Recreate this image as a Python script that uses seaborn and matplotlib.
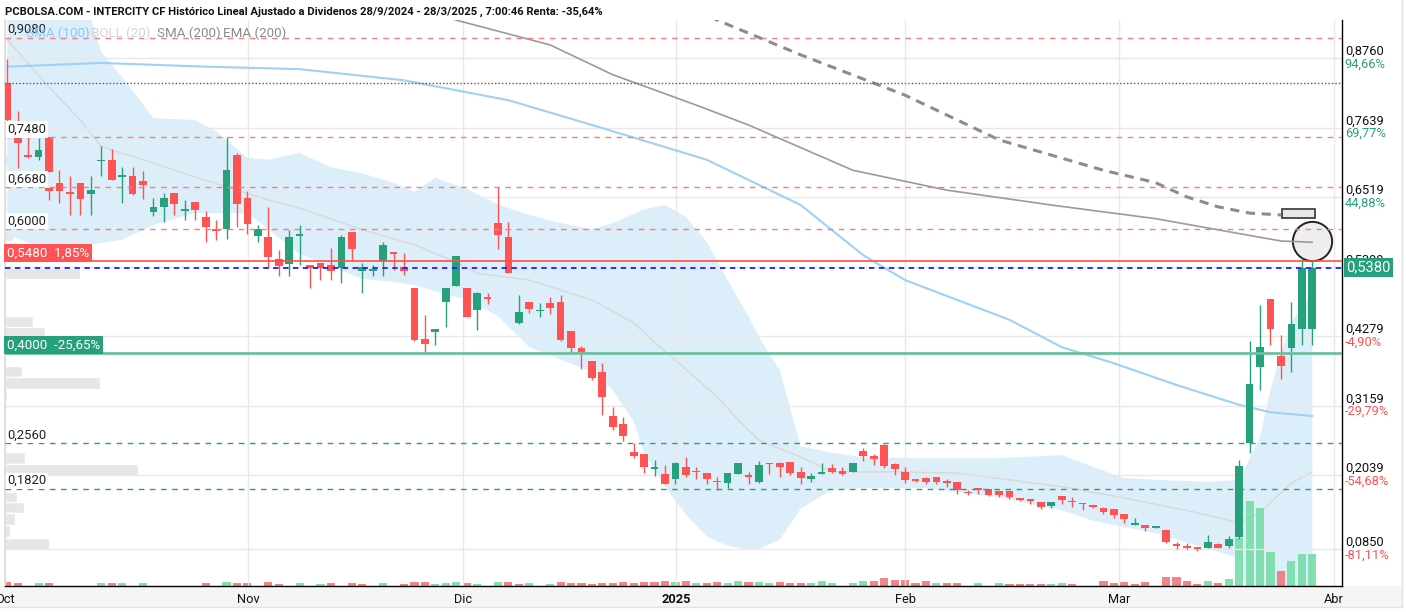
import numpy as np
import pandas as pd
import matplotlib
matplotlib.use("Agg")
import matplotlib.pyplot as plt
import seaborn as sns
from matplotlib.patches import Rectangle
from matplotlib.lines import Line2D

sns.set_theme(style="white")
plt.rcParams['font.family'] = ['Roboto', 'DejaVu Sans']

# ---------------- data ----------------
opens = [0.835, 0.748, 0.720, 0.716, 0.748, 0.674, 0.660, 0.674, 0.657, 0.710,
         0.712, 0.684, 0.686, 0.678, 0.627, 0.636, 0.659, 0.630, 0.644, 0.619,
         0.600, 0.600, 0.720, 0.651, 0.589, 0.588, 0.552, 0.544, 0.589, 0.542,
         0.545, 0.542, 0.537, 0.595, 0.533, 0.533, 0.548, 0.563, 0.539, 0.506,
         0.423, 0.434, 0.482, 0.509, 0.505, 0.470, 0.490, 0.610, 0.588, 0.449,
         0.482, 0.468, 0.481, 0.482, 0.436, 0.408, 0.388, 0.370, 0.299, 0.286,
         0.241, 0.238, 0.214, 0.206, 0.197, 0.216, 0.209, 0.207, 0.194, 0.191,
         0.206, 0.204, 0.192, 0.223, 0.223, 0.225, 0.208, 0.197, 0.206, 0.215,
         0.211, 0.209, 0.243, 0.235, 0.252, 0.221, 0.209, 0.197, 0.199, 0.201,
         0.194, 0.192, 0.177, 0.183, 0.181, 0.178, 0.178, 0.165, 0.166, 0.160,
         0.154, 0.170, 0.161, 0.158, 0.154, 0.150, 0.149, 0.141, 0.123, 0.123,
         0.118, 0.116, 0.093, 0.090, 0.086, 0.087, 0.093, 0.090, 0.104, 0.255,
         0.378, 0.487, 0.395, 0.408, 0.440, 0.440]
highs = [0.875, 0.791, 0.748, 0.747, 0.748, 0.695, 0.685, 0.674, 0.686, 0.734,
         0.730, 0.701, 0.700, 0.694, 0.651, 0.659, 0.659, 0.647, 0.644, 0.629,
         0.615, 0.748, 0.723, 0.662, 0.607, 0.636, 0.567, 0.599, 0.607, 0.542,
         0.545, 0.569, 0.591, 0.595, 0.545, 0.542, 0.580, 0.563, 0.562, 0.506,
         0.462, 0.439, 0.505, 0.557, 0.505, 0.499, 0.498, 0.668, 0.612, 0.494,
         0.482, 0.481, 0.490, 0.494, 0.436, 0.412, 0.388, 0.385, 0.313, 0.297,
         0.256, 0.238, 0.228, 0.220, 0.225, 0.233, 0.216, 0.207, 0.200, 0.207,
         0.224, 0.209, 0.227, 0.223, 0.225, 0.225, 0.216, 0.207, 0.224, 0.222,
         0.216, 0.224, 0.247, 0.238, 0.254, 0.223, 0.216, 0.197, 0.201, 0.201,
         0.197, 0.192, 0.179, 0.183, 0.181, 0.178, 0.178, 0.167, 0.166, 0.160,
         0.161, 0.170, 0.168, 0.158, 0.156, 0.152, 0.149, 0.141, 0.134, 0.123,
         0.122, 0.116, 0.096, 0.094, 0.088, 0.107, 0.095, 0.106, 0.228, 0.420,
         0.478, 0.487, 0.430, 0.483, 0.553, 0.548]
lows = [0.775, 0.698, 0.715, 0.712, 0.692, 0.643, 0.623, 0.623, 0.623, 0.686,
        0.679, 0.643, 0.655, 0.648, 0.622, 0.611, 0.623, 0.615, 0.615, 0.580,
        0.583, 0.584, 0.603, 0.593, 0.580, 0.537, 0.524, 0.524, 0.542, 0.505,
        0.518, 0.518, 0.513, 0.548, 0.498, 0.524, 0.524, 0.535, 0.526, 0.420,
        0.399, 0.413, 0.442, 0.509, 0.458, 0.438, 0.480, 0.568, 0.529, 0.448,
        0.465, 0.458, 0.463, 0.420, 0.399, 0.374, 0.357, 0.301, 0.276, 0.258,
        0.231, 0.207, 0.202, 0.189, 0.189, 0.201, 0.197, 0.189, 0.180, 0.183,
        0.206, 0.189, 0.191, 0.206, 0.201, 0.204, 0.189, 0.192, 0.206, 0.207,
        0.204, 0.208, 0.227, 0.220, 0.215, 0.204, 0.191, 0.192, 0.189, 0.189,
        0.184, 0.173, 0.172, 0.173, 0.170, 0.169, 0.166, 0.162, 0.157, 0.149,
        0.150, 0.157, 0.152, 0.148, 0.150, 0.141, 0.134, 0.126, 0.123, 0.113,
        0.118, 0.094, 0.084, 0.084, 0.082, 0.086, 0.086, 0.086, 0.100, 0.239,
        0.341, 0.413, 0.358, 0.370, 0.413, 0.413]
closes = [0.776, 0.739, 0.716, 0.727, 0.693, 0.661, 0.656, 0.648, 0.663, 0.712,
          0.679, 0.687, 0.657, 0.672, 0.636, 0.651, 0.641, 0.632, 0.631, 0.604,
          0.597, 0.695, 0.641, 0.608, 0.600, 0.556, 0.540, 0.588, 0.592, 0.537,
          0.537, 0.533, 0.588, 0.568, 0.539, 0.535, 0.575, 0.560, 0.533, 0.422,
          0.415, 0.439, 0.505, 0.557, 0.459, 0.497, 0.488, 0.591, 0.530, 0.467,
          0.471, 0.470, 0.473, 0.422, 0.408, 0.399, 0.360, 0.329, 0.281, 0.266,
          0.235, 0.217, 0.216, 0.189, 0.224, 0.204, 0.208, 0.197, 0.192, 0.207,
          0.224, 0.201, 0.220, 0.221, 0.217, 0.207, 0.199, 0.203, 0.208, 0.209,
          0.206, 0.224, 0.235, 0.229, 0.219, 0.213, 0.196, 0.194, 0.193, 0.193,
          0.191, 0.180, 0.175, 0.179, 0.172, 0.172, 0.169, 0.164, 0.162, 0.153,
          0.161, 0.164, 0.160, 0.157, 0.153, 0.144, 0.139, 0.133, 0.126, 0.118,
          0.122, 0.096, 0.090, 0.087, 0.085, 0.096, 0.087, 0.100, 0.218, 0.350,
          0.410, 0.439, 0.380, 0.448, 0.537, 0.538]
prev_close = 0.835
# a second bar recorded on the same session as bar 4
dup_day, dup_ohlc = 4, (0.666, 0.666, 0.647, 0.661)

volume = [40, 30, 0, 30, 30, 0, 0, 0, 0, 30, 30, 30, 0, 30, 0, 0, 0, 0, 0, 30,
          0, 40, 30, 30, 0, 40, 20, 0, 30, 0, 20, 30, 0, 30, 20, 0, 30, 0, 20, 40,
          40, 20, 30, 40, 30, 20, 0, 40, 40, 20, 30, 0, 20, 40, 30, 30, 20, 30, 30, 40,
          30, 40, 40, 50, 40, 50, 30, 30, 40, 30, 50, 40, 40, 30, 40, 30, 30, 30, 50, 30,
          0, 30, 50, 50, 80, 60, 60, 30, 50, 30, 30, 30, 0, 30, 0, 30, 20, 20, 20, 20,
          20, 30, 20, 0, 0, 50, 30, 40, 20, 40, 0, 90, 90, 50, 20, 50, 30, 70, 480, 850,
          780, 340, 150, 250, 320, 320]

# Bollinger (20) read at sampled sessions
boll_day = [0, 4, 8, 9, 11, 14, 18, 20, 23, 25, 28, 31, 34, 37, 39, 41, 44, 47, 50, 53,
            56, 58, 60, 61, 63, 65, 67, 69, 71, 72, 74, 76, 79, 82, 88, 91, 95, 101, 104,
            107, 110, 115, 118, 119, 120, 121, 122, 123, 125]
boll_up = [1.00, 0.98, 0.94, 0.886, 0.845, 0.779, 0.776, 0.758, 0.715, 0.712, 0.723, 0.700,
           0.690, 0.675, 0.660, 0.683, 0.665, 0.640, 0.623, 0.610, 0.600, 0.610, 0.625,
           0.632, 0.639, 0.620, 0.580, 0.518, 0.460, 0.426, 0.373, 0.250, 0.240, 0.232,
           0.231, 0.231, 0.231, 0.236, 0.217, 0.199, 0.196, 0.193, 0.196, 0.230, 0.265,
           0.341, 0.400, 0.450, 0.500]
boll_low = [0.591, 0.566, 0.575, 0.578, 0.583, 0.607, 0.626, 0.626, 0.626, 0.600, 0.560,
            0.540, 0.520, 0.515, 0.510, 0.500, 0.486, 0.460, 0.410, 0.390, 0.370, 0.341,
            0.290, 0.240, 0.185, 0.140, 0.105, 0.090, 0.083, 0.085, 0.100, 0.150, 0.180,
            0.183, 0.183, 0.176, 0.168, 0.147, 0.130, 0.120, 0.110, 0.085, 0.070, 0.000,
            -0.05, -0.07, -0.08, -0.09, -0.10]
mid_day = [0, 4, 7, 9, 14, 18, 22, 25, 28, 34, 39, 43, 45, 50, 56, 60, 62, 64, 68, 70, 72,
           76, 79, 85, 91, 101, 107, 114, 118, 120, 123, 125]
boll_mid = [0.905, 0.829, 0.776, 0.733, 0.707, 0.684, 0.663, 0.647, 0.634, 0.599, 0.575,
            0.547, 0.529, 0.518, 0.486, 0.449, 0.418, 0.389, 0.330, 0.293, 0.260, 0.233,
            0.209, 0.209, 0.207, 0.185, 0.167, 0.143, 0.127, 0.143, 0.191, 0.209]

sma100_day = [0, 9, 19, 28, 38, 48, 57, 67, 76, 82, 86, 96, 101, 106, 112, 118, 121, 125]
sma100 = [0.862, 0.868, 0.862, 0.858, 0.840, 0.808, 0.763, 0.712, 0.639, 0.558, 0.518,
          0.454, 0.410, 0.384, 0.349, 0.317, 0.305, 0.299]
sma200_day = [40, 43, 52, 58, 66, 71, 81, 90, 100, 110, 116, 122, 125]
sma200 = [0.955, 0.937, 0.897, 0.849, 0.800, 0.768, 0.695, 0.663, 0.639, 0.617, 0.599,
          0.581, 0.579]
ema200_day = [66, 68, 76, 86, 95, 105, 110, 113, 116, 119, 122]
ema200 = [0.955, 0.937, 0.881, 0.816, 0.744, 0.695, 0.675, 0.652, 0.636, 0.626, 0.623]

profile_price = [0.711, 0.591, 0.529, 0.4505, 0.4335, 0.371, 0.352, 0.332, 0.231, 0.212,
                 0.168, 0.1515, 0.133, 0.1136, 0.0927]
profile_vol = [3, 8, 75, 28, 40, 17, 95, 2, 20, 133, 12, 19, 10, 5, 44]

month_pos = [-0.22, 23.06, 43.65, 64.05, 86.0, 106.5, 127.1]
month_lab = ["Oct", "Nov", "Dic", "2025", "Feb", "Mar", "Abr"]

grid_vals = [0.8760, 0.7639, 0.6519, 0.5399, 0.4279, 0.3159, 0.2039, 0.0850]
grid_lab = ["0,8760", "0,7639", "0,6519", "0,5399", "0,4279", "0,3159", "0,2039", "0,0850"]
grid_pct = ["94,66%", "69,77%", "44,88%", "", "-4,90%", "-29,79%", "-54,68%", "-81,11%"]

red_levels = [0.9080, 0.7480, 0.6680, 0.6000]
red_labels = ["0,9080", "0,7480", "0,6680", "0,6000"]
green_levels = [0.2560, 0.1820]
green_labels = ["0,2560", "0,1820"]
prev_level = 0.8356
last_price = 0.5380
resist_level, resist_text = 0.5480, "0,5480  1,85%"
support_level, support_text = 0.4000, "0,4000  -25,65%"

title = ("PCBOLSA.COM - INTERCITY CF Histórico Lineal Ajustado a Dividenos "
         "28/9/2024 - 28/3/2025 , 7:00:46 Renta: -35,64%")

# ---------------- styles ----------------
GREEN = "#26a17b"
RED = "#ff5252"
W, H = 1406, 612

df = pd.DataFrame({"o": opens, "h": highs, "l": lows, "c": closes, "v": volume})
df["day"] = np.arange(len(df))
df["up"] = df["c"] >= df["o"]
prevc = np.r_[prev_close, df["c"].values[:-1]]
df["vup"] = df["c"].values >= prevc

fig = plt.figure(figsize=(W / 100, H / 100), dpi=100, facecolor="white")
rect = [5 / W, 26 / H, 1337 / W, 566 / H]
axp = fig.add_axes(rect)
ax = fig.add_axes(rect, sharey=axp)
axb = fig.add_axes(rect, sharex=ax, sharey=ax)
axv = fig.add_axes(rect, sharex=ax)
axp.set_zorder(0)
axb.set_zorder(1)
axv.set_zorder(2)
ax.set_zorder(3)
for a in (ax, axb, axv):
    a.patch.set_visible(False)
axp.set_facecolor("white")

ymin, ymax = 0.025, 0.9372
xmin, xmax = -0.22, 127.85
ax.set_xlim(xmin, xmax)
ax.set_ylim(ymin, ymax)

# volume profile
axp.barh(profile_price, profile_vol, height=0.0185, left=0, color="#e6e6e6", zorder=1)
axp.set_xlim(0, 1337)
axp.axis("off")

# Bollinger band (own layer, under the volume bars)
axb.fill_between(boll_day, boll_low, boll_up, color="#ddeefb", linewidth=0, zorder=1)
sns.lineplot(x=mid_day, y=boll_mid, ax=axb, color="#d9d9d9", linewidth=1.1, zorder=2)
axb.axis("off")

# volume bars
vcol = np.where(df["vup"], "#74dca6", "#f27479")
axv.bar(df["day"], df["v"], width=0.78, color=vcol, alpha=0.88, linewidth=0)
axv.set_ylim(0, 5660)
axv.axis("off")

# grid
ax.set_yticks(grid_vals)
ax.set_xticks(month_pos)
ax.set_xticklabels(month_lab)
ax.grid(True, color="#e8e8e8", linewidth=1)
ax.set_axisbelow(True)
ax.tick_params(axis="y", left=False, right=False, labelleft=False, labelright=False)
ax.tick_params(axis="x", length=0, pad=5, labelsize=9.2, labelcolor="#111")
ax.get_xticklabels()[3].set_fontweight("bold")
ax.set_xlim(xmin, xmax)
ax.set_ylim(ymin, ymax)

ax.spines["top"].set_visible(False)
ax.spines["left"].set_color("#dddddd")
ax.spines["right"].set_color("black")
ax.spines["bottom"].set_color("black")
ax.spines["right"].set_linewidth(1)
ax.spines["bottom"].set_linewidth(1)

# moving averages
sns.lineplot(x=sma100_day, y=sma100, ax=ax, color="#9fd0f7", linewidth=1.5, zorder=2)
sns.lineplot(x=sma200_day, y=sma200, ax=ax, color="#9a9a9a", linewidth=1.2, zorder=3)
ax.plot(ema200_day, ema200, color="#8c8c8c", linewidth=2.2, linestyle=(0, (3, 2.2)), zorder=3)

# candles
ax.vlines(df["day"], df["l"], df["h"], colors=np.where(df["up"], GREEN, RED),
          linewidth=1.0, zorder=4)
body_lo = np.minimum(df["o"], df["c"])
body_h = np.maximum(np.abs(df["c"] - df["o"]), 0.0022)
ax.bar(df["day"], body_h, bottom=body_lo, width=0.74,
       color=np.where(df["up"], GREEN, RED), linewidth=0, zorder=5)
do, dh, dl, dc = dup_ohlc
ax.vlines([dup_day], [dl], [dh], colors=RED, linewidth=1.0, zorder=4)
ax.bar([dup_day], [max(abs(do - dc), 0.0022)], bottom=[min(do, dc)], width=0.74,
       color=RED, linewidth=0, zorder=5)

# level lines
for lv in red_levels:
    ax.axhline(lv, color="#ff7b7b", linewidth=1, linestyle=(0, (4, 4)), zorder=6)
for lv in green_levels:
    ax.axhline(lv, color="#2e9e77", linewidth=1, linestyle=(0, (4, 4)), zorder=6)
ax.axhline(prev_level, color="#555555", linewidth=1, linestyle=(0, (1, 1.5)), zorder=6)
ax.axhline(resist_level, color="#ff4d4d", linewidth=1.2, zorder=6)
ax.axhline(last_price, color="#1f1fff", linewidth=1.3, linestyle=(0, (3, 2.5)), zorder=6)
ax.axhline(support_level, color="#6cc0a0", linewidth=2, zorder=6)

# markers at end of the long averages
ax.scatter([sma200_day[-1]], [sma200[-1] + 0.0016], s=800, facecolor="#eeeeee",
           edgecolor="#222222", linewidth=1.4, zorder=2.5)
ax.add_patch(Rectangle((ema200_day[-1] + 0.15, ema200[-1] - 0.0045), 3.1, 0.0145,
                       facecolor="#e8e8e8", edgecolor="#333333", linewidth=1.2, zorder=6))

# left labels
def left_label(y, txt, fc="white", tc="#222", size=9.4, dy=1):
    ax.annotate(txt, xy=(0, y), xycoords=("axes fraction", "data"),
                xytext=(1.5, dy), textcoords="offset points", va="bottom", ha="left",
                fontsize=size, color=tc, zorder=8,
                bbox=dict(boxstyle="square,pad=0.12", facecolor=fc, edgecolor="none"))

for lv, tx in zip(red_levels[1:], red_labels[1:]):
    left_label(lv, tx)
for lv, tx in zip(green_levels, green_labels):
    left_label(lv, tx)
ax.annotate(red_labels[0], xy=(0, red_levels[0]), xycoords=("axes fraction", "data"),
            xytext=(1.5, 1.5), textcoords="offset points", va="bottom", ha="left",
            fontsize=9.4, color="#222", zorder=9)
for lv, tx, fc in [(resist_level, resist_text, RED), (support_level, support_text, GREEN)]:
    ax.annotate(tx, xy=(0, lv), xycoords=("axes fraction", "data"),
                xytext=(1.5, 1.3), textcoords="offset points", va="bottom", ha="left",
                fontsize=9.6, color="white", zorder=9,
                bbox=dict(boxstyle="square,pad=0.2", facecolor=fc, edgecolor="none"))

# right labels
for gv, gl, gp in zip(grid_vals, grid_lab, grid_pct):
    ax.annotate(gl, xy=(1, gv), xycoords=("axes fraction", "data"), xytext=(2, 4.8),
                textcoords="offset points", va="center", ha="left", fontsize=9.3,
                color="#111", annotation_clip=False)
    if gp:
        ax.annotate(gp, xy=(1, gv), xycoords=("axes fraction", "data"), xytext=(2, -4.4),
                    textcoords="offset points", va="center", ha="left", fontsize=9.3,
                    color=RED if gp.startswith("-") else GREEN, annotation_clip=False)
ax.annotate("0,5380", xy=(1, last_price), xycoords=("axes fraction", "data"),
            xytext=(3, 0), textcoords="offset points", va="center", ha="left",
            fontsize=10.6, color="white", annotation_clip=False, zorder=10,
            bbox=dict(boxstyle="square,pad=0.18", facecolor=GREEN, edgecolor="none"))

# legend row and title
for xx, txt, col in [(26, "SMA (100)", "#90c8f5"), (91, "BOLL (20)", "#d4d4d4"),
                     (157, "SMA (200)", "#8a8a8a"), (223, "EMA (200)", "#8a8a8a")]:
    fig.text(xx / W, 1 - 33 / H, txt, color=col, fontsize=9.6, va="center")
fig.text(5 / W, 1 - 12 / H, title, fontsize=8.15, fontweight="bold", color="#111", va="center")

# bottom strip and frame
fig.patches.append(Rectangle((0, 5 / H), 1402 / W, 21 / H, transform=fig.transFigure,
                             facecolor="#f5f5f5", edgecolor="none", zorder=-5))
fig.lines.append(Line2D([0, 1402 / W], [5 / H, 5 / H], transform=fig.transFigure,
                        color="#e2e2e2", linewidth=1))
fig.lines.append(Line2D([1401.5 / W, 1401.5 / W], [5 / H, 1], transform=fig.transFigure,
                        color="#e2e2e2", linewidth=1))

fig.savefig("out.png", dpi=100, facecolor="white")
